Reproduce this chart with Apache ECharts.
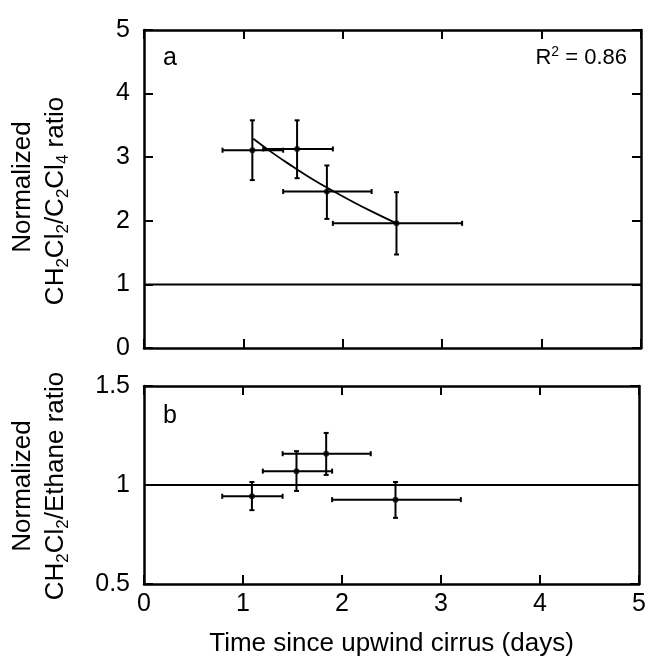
<!DOCTYPE html>
<html><head><meta charset="utf-8">
<script src="https://cdn.jsdelivr.net/npm/echarts@6/dist/echarts.min.js"></script>
<style>html,body{margin:0;padding:0;background:#fff}#c{width:649px;height:658px}</style>
</head><body><div id="c"></div>
<script>
// Shared x data (days) with horizontal error ranges
var timeX = [1.09, 1.54, 1.84, 2.54];
var timeLo = [0.79, 1.20, 1.40, 1.90];
var timeHi = [1.40, 1.90, 2.29, 3.20];
// Panel a: CH2Cl2/C2Cl4
var ratioA = [3.11, 3.13, 2.46, 1.96];
var ratioALo = [2.64, 2.67, 2.03, 1.47];
var ratioAHi = [3.58, 3.58, 2.87, 2.45];
// Fit curve
var fitX = [1.10, 1.30, 1.50, 1.70, 1.90, 2.10, 2.30, 2.54];
var fitY = [3.29, 3.06, 2.85, 2.65, 2.47, 2.30, 2.14, 1.96];
// Panel b: CH2Cl2/Ethane
var ratioB = [0.943, 1.070, 1.158, 0.926];
var ratioBLo = [0.873, 0.970, 1.051, 0.834];
var ratioBHi = [1.015, 1.171, 1.263, 1.015];

var FONT = '"Liberation Sans", Arial, Helvetica, sans-serif';

function errData(ys, ylo, yhi) {
  return timeX.map(function (x, i) { return [x, ys[i], timeLo[i], timeHi[i], ylo[i], yhi[i]]; });
}
function renderErr(params, api) {
  var x = api.value(0), y = api.value(1);
  var c = api.coord([x, y]);
  var l = api.coord([api.value(2), y]);
  var r = api.coord([api.value(3), y]);
  var b = api.coord([x, api.value(4)]);
  var t = api.coord([x, api.value(5)]);
  var cap = 2.5;
  var st = { stroke: '#000', lineWidth: 2 };
  return { type: 'group', children: [
    { type: 'line', shape: { x1: l[0], y1: c[1], x2: r[0], y2: c[1] }, style: st },
    { type: 'line', shape: { x1: l[0], y1: c[1] - cap, x2: l[0], y2: c[1] + cap }, style: st },
    { type: 'line', shape: { x1: r[0], y1: c[1] - cap, x2: r[0], y2: c[1] + cap }, style: st },
    { type: 'line', shape: { x1: c[0], y1: t[1], x2: c[0], y2: b[1] }, style: st },
    { type: 'line', shape: { x1: c[0] - cap, y1: t[1], x2: c[0] + cap, y2: t[1] }, style: st },
    { type: 'line', shape: { x1: c[0] - cap, y1: b[1], x2: c[0] + cap, y2: b[1] }, style: st }
  ]};
}

var tickStyle = { show: true, inside: true, length: 9, lineStyle: { color: '#000', width: 2 } };
var lineStyle = { show: true, onZero: false, lineStyle: { color: '#000', width: 2.5 } };
function xAx(grid, showLabels, pos) {
  return { type: 'value', gridIndex: grid, min: 0, max: 5, interval: 1, position: pos,
    axisLine: lineStyle, axisTick: tickStyle, splitLine: { show: false },
    axisLabel: { show: showLabels, margin: 8, color: '#000', fontSize: 25, fontFamily: FONT },
    name: showLabels ? 'Time since upwind cirrus (days)' : '', nameLocation: 'middle', nameGap: 47,
    nameTextStyle: { color: '#000', fontSize: 26, fontFamily: FONT } };
}
function yAx(grid, min, max, interval, showLabels, pos) {
  return { type: 'value', gridIndex: grid, min: min, max: max, interval: interval, position: pos,
    axisLine: lineStyle, axisTick: tickStyle, splitLine: { show: false },
    axisLabel: { show: showLabels, margin: 14, color: '#000', fontSize: 25, fontFamily: FONT,
      formatter: function (v) { return String(v); } } };
}

var chart = echarts.init(document.getElementById('c'), null, { renderer: 'canvas' });
var rich = {
  n: { fontSize: 26, fontFamily: FONT, color: '#000' },
  s: { fontSize: 17, fontFamily: FONT, color: '#000', padding: [15, 0, 0, 0] }
};
chart.setOption({
  animation: false,
  grid: [
    { left: 144, right: 8, top: 30, height: 318 },
    { left: 144, right: 8, top: 386, height: 199 }
  ],
  xAxis: [xAx(0, false, 'bottom'), xAx(0, false, 'top'), xAx(1, true, 'bottom'), xAx(1, false, 'top')],
  yAxis: [yAx(0, 0, 5, 1, true, 'left'), yAx(0, 0, 5, 1, false, 'right'),
          yAx(1, 0.5, 1.5, 0.5, true, 'left'), yAx(1, 0.5, 1.5, 0.5, false, 'right')],
  series: [
    { type: 'line', xAxisIndex: 0, yAxisIndex: 0, data: [[0, 1], [5, 1]], symbol: 'none',
      lineStyle: { color: '#000', width: 2 }, silent: true },
    { type: 'line', xAxisIndex: 0, yAxisIndex: 0, data: fitX.map(function (x, i) { return [x, fitY[i]]; }),
      symbol: 'none', smooth: true, lineStyle: { color: '#000', width: 1.8 }, silent: true },
    { type: 'custom', xAxisIndex: 0, yAxisIndex: 0, renderItem: renderErr, data: errData(ratioA, ratioALo, ratioAHi), z: 3 },
    { type: 'scatter', xAxisIndex: 0, yAxisIndex: 0, data: timeX.map(function (x, i) { return [x, ratioA[i]]; }),
      symbolSize: 6, itemStyle: { color: '#000' }, z: 4 },
    { type: 'line', xAxisIndex: 2, yAxisIndex: 2, data: [[0, 1], [5, 1]], symbol: 'none',
      lineStyle: { color: '#000', width: 2 }, silent: true },
    { type: 'custom', xAxisIndex: 2, yAxisIndex: 2, renderItem: renderErr, data: errData(ratioB, ratioBLo, ratioBHi), z: 3 },
    { type: 'scatter', xAxisIndex: 2, yAxisIndex: 2, data: timeX.map(function (x, i) { return [x, ratioB[i]]; }),
      symbolSize: 6, itemStyle: { color: '#000' }, z: 4 }
  ],
  graphic: [
    { type: 'text', x: 163, y: 58, style: { text: 'a', font: '25px ' + FONT, fill: '#000', verticalAlign: 'middle' } },
    { type: 'text', x: 163, y: 416, style: { text: 'b', font: '25px ' + FONT, fill: '#000', verticalAlign: 'middle' } },
    { type: 'text', x: 627, y: 58, style: { text: '{n|R}{sup|2}{n| = 0.86}', align: 'right', verticalAlign: 'middle', rich: {
        n: { fontSize: 22, fontFamily: FONT, color: '#000' },
        sup: { fontSize: 14, fontFamily: FONT, color: '#000', padding: [0, 0, 11, 0] } } } },
    { type: 'text', x: 23, y: 187, rotation: Math.PI / 2, style: { text: 'Normalized', font: '26px ' + FONT, fill: '#000', align: 'center', verticalAlign: 'middle' } },
    { type: 'text', x: 56, y: 201, rotation: Math.PI / 2, style: {
        text: '{n|CH}{s|2}{n|Cl}{s|2}{n|/C}{s|2}{n|Cl}{s|4}{n| ratio}', rich: rich, align: 'center', verticalAlign: 'middle' } },
    { type: 'text', x: 23, y: 486, rotation: Math.PI / 2, style: { text: 'Normalized', font: '26px ' + FONT, fill: '#000', align: 'center', verticalAlign: 'middle' } },
    { type: 'text', x: 56, y: 486, rotation: Math.PI / 2, style: {
        text: '{n|CH}{s|2}{n|Cl}{s|2}{n|/Ethane ratio}', rich: rich, align: 'center', verticalAlign: 'middle' } }
  ]
});
</script></body></html>
